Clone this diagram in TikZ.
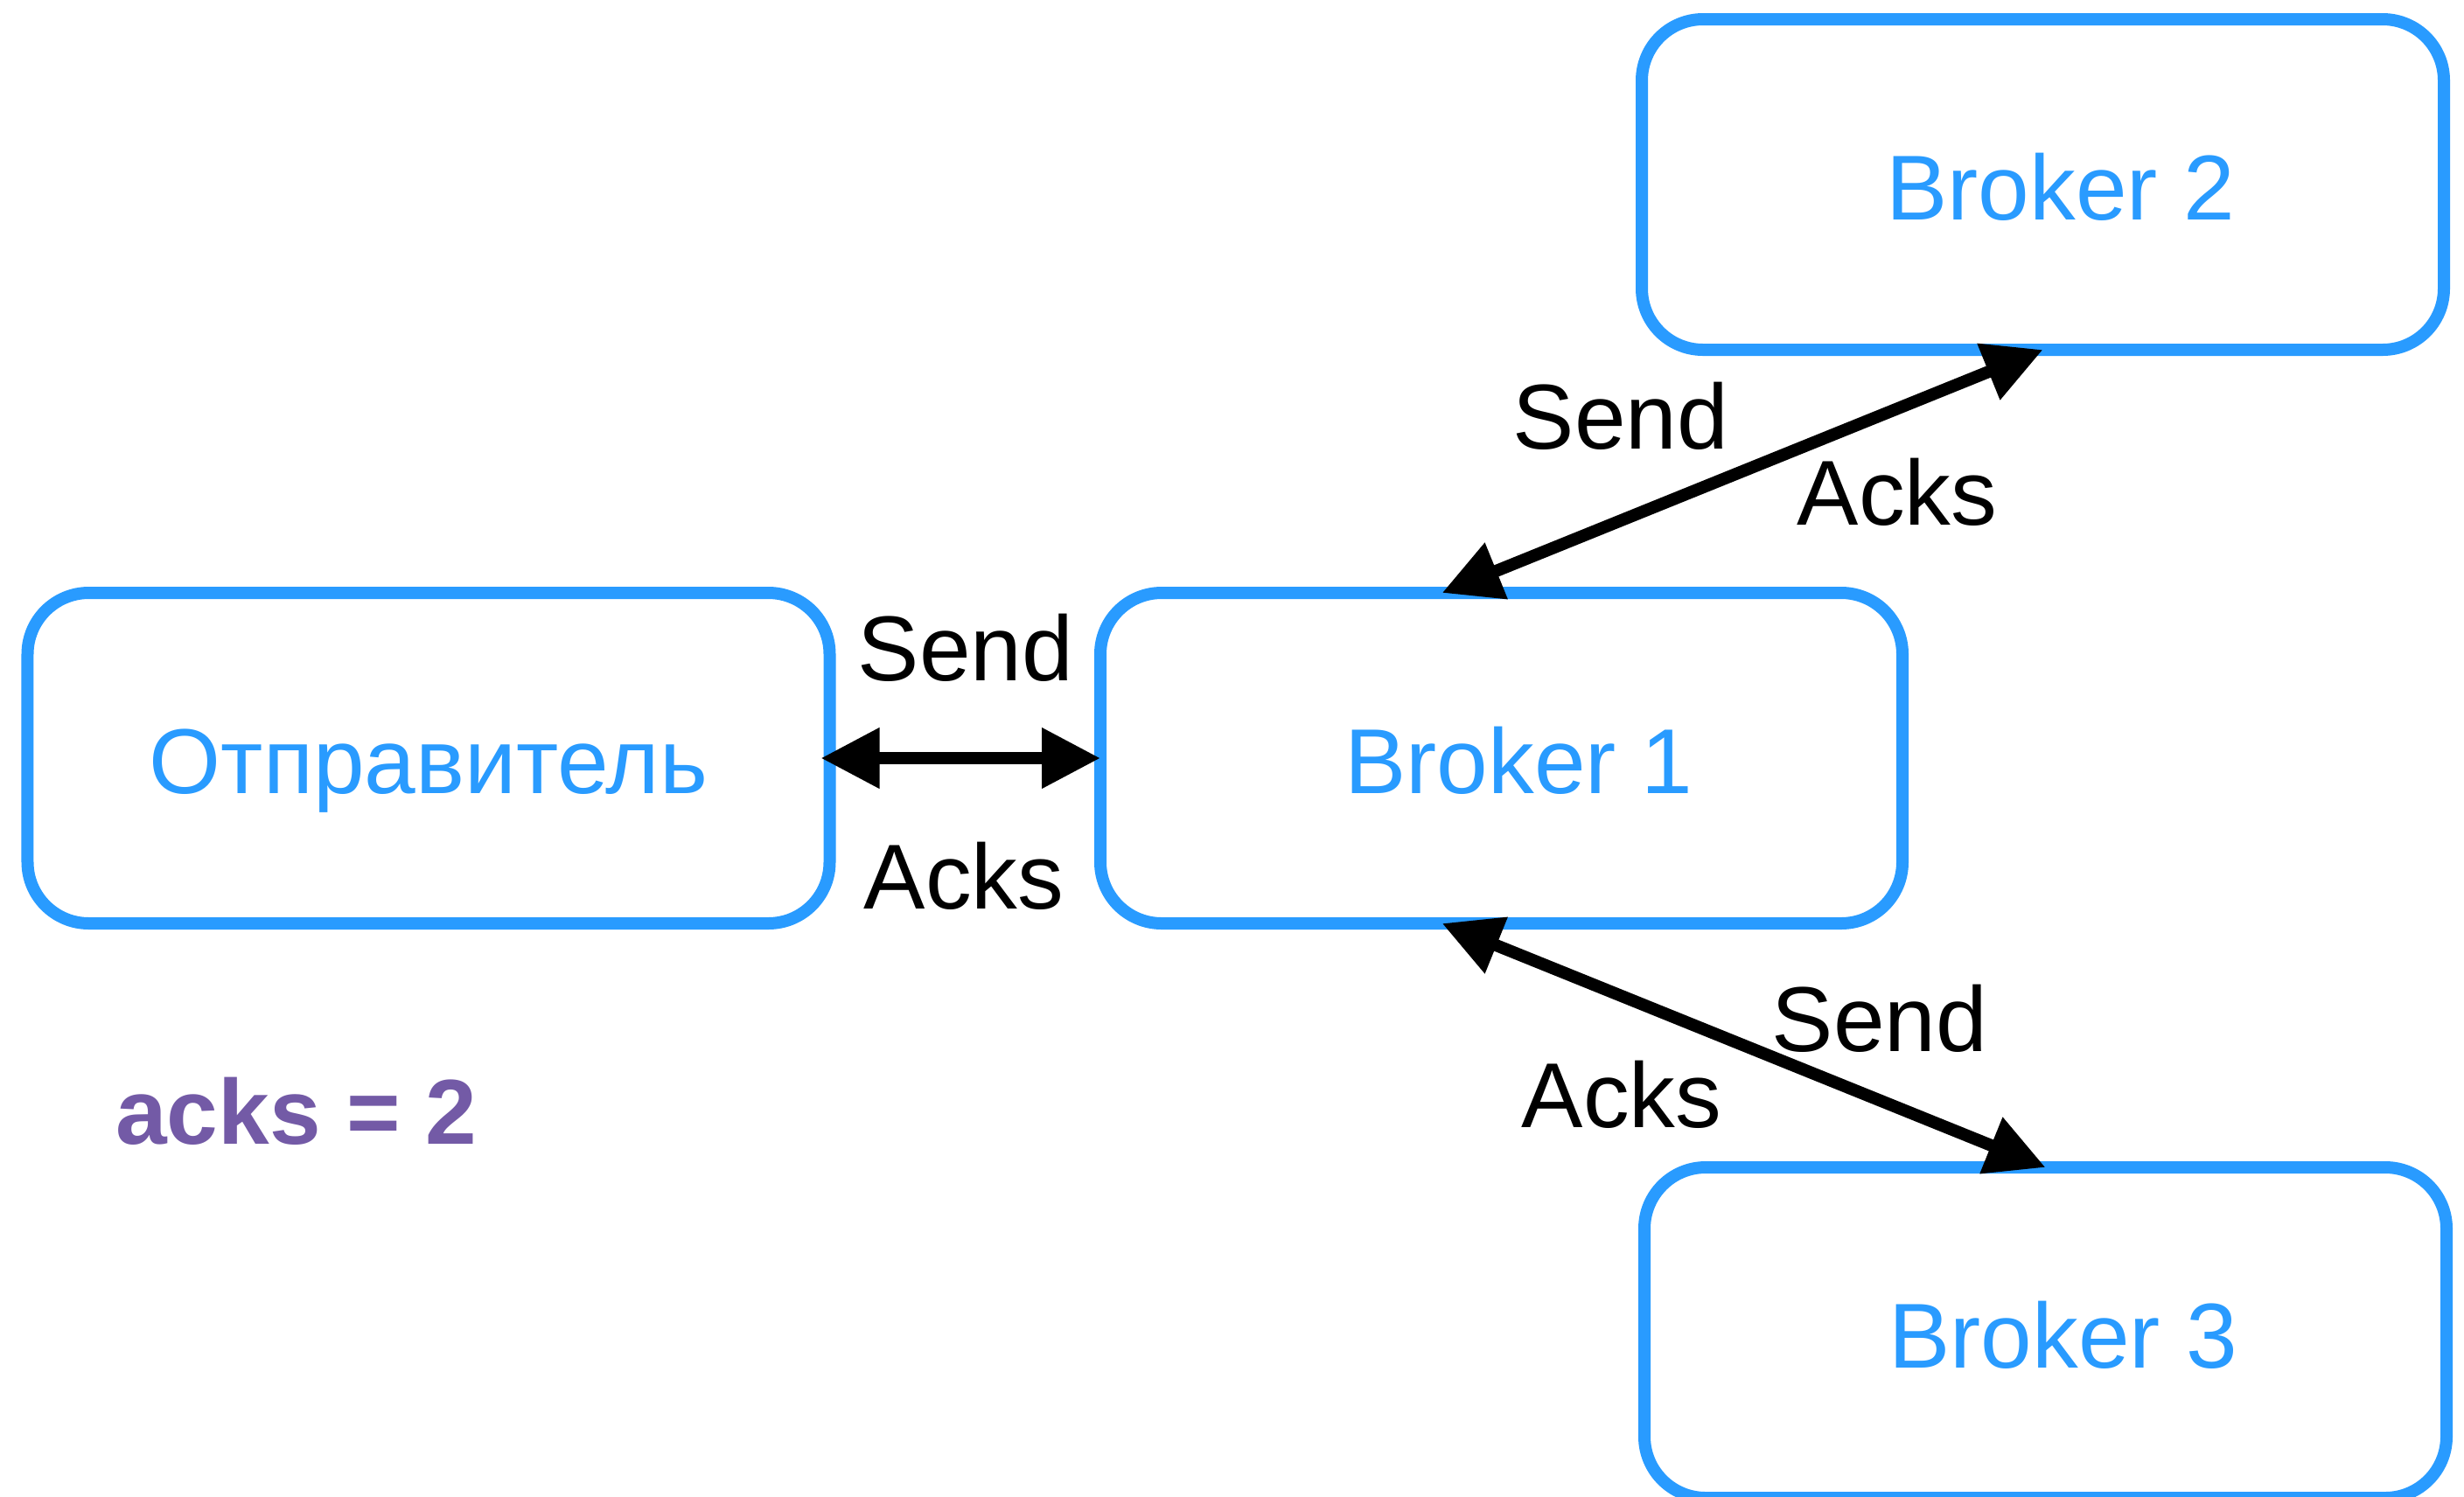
\documentclass[tikz,border=0pt]{standalone}
\usepackage{fontspec}
\setmainfont{Liberation Sans}
\usetikzlibrary{arrows.meta,calc}

\definecolor{boxblue}{RGB}{41,155,255}
\definecolor{notepurple}{RGB}{115,90,166}

\tikzset{
  box/.style={
    draw=boxblue, line width=0.14cm, rectangle, rounded corners=0.7cm,
    minimum width=9.17cm, minimum height=3.78cm, inner sep=0pt, outer sep=0pt,
    text=boxblue, font=\fontsize{30pt}{36pt}\selectfont,
    text height=0.8cm, text depth=0cm, align=center
  },
  link/.style={
    line width=0.14cm, draw=black,
    {Triangle[length=0.67cm,width=0.66cm]}-{Triangle[length=0.67cm,width=0.66cm]}
  },
  lbl/.style={anchor=base, inner sep=0pt, font=\fontsize{30pt}{36pt}\selectfont},
  note/.style={anchor=base, inner sep=0pt, text=notepurple,
    font=\fontsize{30pt}{36pt}\selectfont\bfseries}
}

\begin{document}
\begin{tikzpicture}
  \useasboundingbox (0,0) rectangle (28.17,-17.11);
  \clip (0,0) rectangle (28.17,-17.11);

  % producer and brokers
  \node[box] (snd) at (4.90,-8.67) {Отправитель};
  \node[box] (b1) at (17.165,-8.67) {\hspace*{0.4cm}Broker 1};
  \node[box] (b2) at (23.355,-2.11) {\hspace*{0.4cm}Broker 2};
  \node[box] (b3) at (23.385,-15.24) {\hspace*{0.4cm}Broker 3};

  % attachment points on Broker 1
  \coordinate (b1top) at ($(b1.north west)!0.426!(b1.north east)$);
  \coordinate (b1bot) at ($(b1.south west)!0.426!(b1.south east)$);

  % connections
  \draw[link, shorten <=-0.1cm] (snd.east) -- (b1.west);
  \draw[link] (b1top) -- (b2.south);
  \draw[link] (b1bot) -- (b3.north);

  % connection labels
  \node[lbl] (s1) at (11.04,-7.78) {Send};
  \node[lbl] (a1) at (11.02,-10.39) {Acks};
  \node[lbl] (s2) at (18.53,-5.13) {Send};
  \node[lbl] (a2) at (21.69,-6.00) {Acks};
  \node[lbl] (s3) at (21.49,-12.02) {Send};
  \node[lbl] (a3) at (18.54,-12.89) {Acks};

  % setting note
  \node[note] (cfg) at (3.39,-13.08) {acks = 2};
\end{tikzpicture}
\end{document}
